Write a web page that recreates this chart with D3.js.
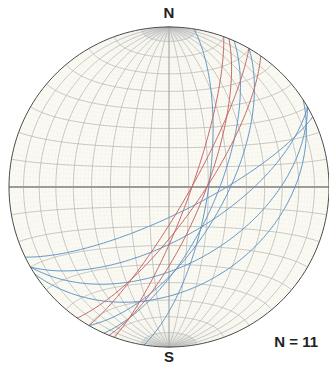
<!DOCTYPE html>
<html>
<head>
<meta charset="utf-8">
<script src="https://cdn.jsdelivr.net/npm/d3@7"></script>
<style>
body { margin: 0; background: #fff; }
</style>
</head>
<body>
<div id="net"></div>
<script>
// planes (strike, right hand rule / dip)
var redStrikes = [20, 22, 30, 35];
var redDips = [79, 72, 80, 74];
var blueStrikes = [9, 24, 30, 64, 60, 60, 57];
var blueDips = [70, 66, 62, 76, 64, 50, 37];
var poleLabels = ["N", "S"];
var countLabel = "N = 11";

var width = 329, height = 369;
var cx = 169, cy = 187, radius = 160;

var svg = d3.select("#net").append("svg")
    .attr("width", width)
    .attr("height", height);

var projection = d3.geoAzimuthalEqualArea()
    .rotate([0, 0])
    .clipAngle(90)
    .scale(radius / Math.SQRT2)
    .translate([cx, cy]);

var path = d3.geoPath(projection);
var rad = Math.PI / 180;

function range(a, b, step) {
    return d3.range(a, b + step / 2, step);
}
function meridian(lon, lat0, lat1) {
    return range(lat0, lat1, 1).map(function (la) { return [lon, la]; });
}
function parallel(lat) {
    return range(-90, 90, 1).map(function (lo) { return [lo, lat]; });
}

// lower hemisphere great circle of a plane
function planeLine(strike, dip) {
    var s = strike * rad, d = dip * rad;
    var coords = range(0.05, 179.95, 1).map(function (a) {
        var al = a * rad;
        var n = Math.cos(al) * Math.cos(s) - Math.sin(al) * Math.cos(d) * Math.sin(s);
        var e = Math.cos(al) * Math.sin(s) + Math.sin(al) * Math.cos(d) * Math.cos(s);
        var dn = Math.sin(al) * Math.sin(d);
        return [Math.atan2(e, dn) / rad, Math.asin(n) / rad];
    });
    return { type: "LineString", coordinates: coords };
}

// background
svg.append("path")
    .datum({ type: "Sphere" })
    .attr("d", path)
    .attr("fill", "#fbfbf4");

// 2 degree lines
var fine = [];
range(-88, 88, 2).forEach(function (lo) {
    if (lo % 10 !== 0) fine.push(meridian(lo, -80, 80));
});
range(-78, 78, 2).forEach(function (la) {
    if (la % 10 !== 0) fine.push(parallel(la));
});
svg.append("path")
    .datum({ type: "MultiLineString", coordinates: fine })
    .attr("d", path)
    .attr("fill", "none")
    .attr("stroke", "#f0f0e8")
    .attr("stroke-width", 0.5);

// polar fans
var caps = [];
range(-88, 88, 2).forEach(function (lo) {
    caps.push(meridian(lo, 80, 90));
    caps.push(meridian(lo, -90, -80));
});
svg.append("path")
    .datum({ type: "MultiLineString", coordinates: caps })
    .attr("d", path)
    .attr("fill", "none")
    .attr("stroke", "#d2d2d2")
    .attr("stroke-width", 0.4);

// 10 degree lines
var major = [];
range(-80, 80, 10).forEach(function (lo) {
    if (lo !== 0) major.push(meridian(lo, -90, 90));
});
range(-80, 80, 10).forEach(function (la) {
    if (la !== 0) major.push(parallel(la));
});
svg.append("path")
    .datum({ type: "MultiLineString", coordinates: major })
    .attr("d", path)
    .attr("fill", "none")
    .attr("stroke", "#b8b8b8")
    .attr("stroke-width", 0.8);

// N-S and E-W axes
svg.append("path")
    .datum({ type: "LineString", coordinates: meridian(0, -90, 90) })
    .attr("d", path)
    .attr("fill", "none")
    .attr("stroke", "#a8a8a8")
    .attr("stroke-width", 1.2);
svg.append("path")
    .datum({ type: "LineString", coordinates: parallel(0) })
    .attr("d", path)
    .attr("fill", "none")
    .attr("stroke", "#9c9c9c")
    .attr("stroke-width", 2);

// great circles
function drawPlanes(strikes, dips, color) {
    svg.append("g")
        .selectAll("path")
        .data(strikes.map(function (s, i) { return planeLine(s, dips[i]); }))
        .enter()
        .append("path")
        .attr("d", path)
        .attr("fill", "none")
        .attr("stroke", color)
        .attr("stroke-width", 1);
}
drawPlanes(blueStrikes, blueDips, "#6194c4");
drawPlanes(redStrikes, redDips, "#c46464");

// primitive
svg.append("path")
    .datum({ type: "Sphere" })
    .attr("d", path)
    .attr("fill", "none")
    .attr("stroke", "#4a4a4a")
    .attr("stroke-width", 1);

svg.selectAll(".pole")
    .data(poleLabels)
    .enter()
    .append("text")
    .attr("x", cx)
    .attr("y", function (d, i) { return i === 0 ? 18 : 362; })
    .attr("text-anchor", "middle")
    .attr("font-family", "Liberation Sans, Arial, sans-serif")
    .attr("font-weight", "bold")
    .attr("font-size", "15px")
    .attr("fill", "#222")
    .text(function (d) { return d; });

svg.append("text")
    .attr("x", 318)
    .attr("y", 347)
    .attr("text-anchor", "end")
    .attr("font-family", "Liberation Sans, Arial, sans-serif")
    .attr("font-weight", "bold")
    .attr("font-size", "15px")
    .attr("fill", "#222")
    .text(countLabel);
</script>
</body>
</html>
